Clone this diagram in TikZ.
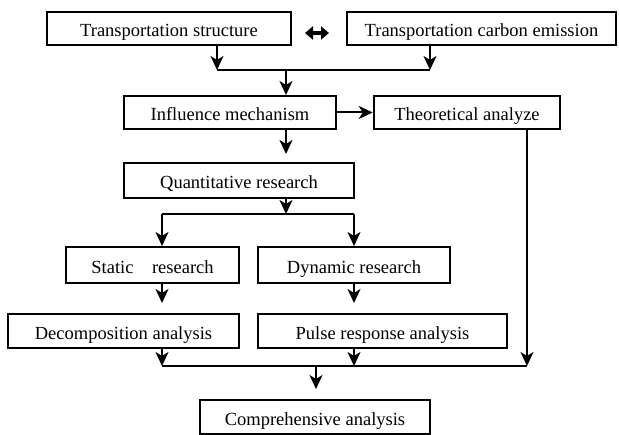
\documentclass[tikz,border=0pt]{standalone}
\usepackage{fontspec}
\setmainfont{Liberation Serif}
\usepackage{tikz}
\usetikzlibrary{arrows.meta}

\begin{document}
\begin{tikzpicture}[x=1pt, y=-1pt]

\tikzstyle{process} = [rectangle, minimum height=34pt, inner sep=0pt, text height=17pt, text depth=0pt, text centered, draw=black, line width=2pt, font=\fontsize{18.5}{22}\selectfont]
\tikzstyle{arrow} = [line width=2pt, -{Stealth[length=14pt, width=13pt, inset=4pt]}]
\tikzstyle{line} = [line width=2pt]
\tikzstyle{biarrow} = [line width=4pt, {Triangle[length=8pt, width=13pt]}-{Triangle[length=8pt, width=13pt]}]

\useasboundingbox (0,0) rectangle (619,435);

\node (struct) [process, minimum width=244.5pt, minimum height=33pt] at (169,28.5) {Transportation structure};
\node (carbon) [process, minimum width=269pt, minimum height=33pt] at (481.5,28.5) {Transportation carbon emission};
\node (influence) [process, minimum width=211.5pt, minimum height=33pt] at (230,112.5) {Influence mechanism};
\node (theory) [process, minimum width=186.5pt, minimum height=33pt] at (467,112.5) {Theoretical analyze};
\node (quant) [process, minimum width=229.5pt, minimum height=35pt] at (239,180.5) {Quantitative research};
\node (static) [process, minimum width=173pt, minimum height=36pt] at (152.5,265) {Static\quad research};
\node (dynamic) [process, minimum width=192pt, minimum height=36pt] at (354,265) {Dynamic research};
\node (decomp) [process, minimum width=231pt] at (123.5,331) {Decomposition analysis};
\node (pulse) [process, minimum width=249pt] at (382.5,331) {Pulse response analysis};
\node (compr) [process, minimum width=229.5pt] at (315,417) {Comprehensive analysis};

% junction points
\coordinate (top) at (286,70);
\coordinate (split) at (286,214);
\coordinate (sa) at (162,214);
\coordinate (sb) at (354,214);
\coordinate (ba) at (162,366);
\coordinate (bc) at (354,366);
\coordinate (bb) at (527,366);
\coordinate (bot) at (316,366);

\draw [biarrow, shorten <=12.75pt, shorten >=17pt] ([yshift=-4.5pt]struct.east) -- ([yshift=-4.5pt]carbon.west);

\draw [arrow] ([xshift=48pt]struct.south) -- ([xshift=48pt]struct.south |- top);
\draw [arrow] ([xshift=-51.5pt]carbon.south) -- ([xshift=-51.5pt]carbon.south |- top);
\draw [line] ([xshift=48pt]struct.south |- top) -- ([xshift=-51.5pt]carbon.south |- top);
\draw [arrow] (top) -- (influence.north -| top);

\draw [arrow] (influence) -- (theory);
\draw [arrow, shorten >=8pt] (influence.south -| top) -- (quant.north -| top);

\draw [arrow] (quant.south -| split) -- (split);
\draw [line] (sa) -- (sb);
\draw [arrow] (sa) -- (static.north -| sa);
\draw [arrow] (sb) -- (dynamic.north);

\draw [arrow, shorten >=10pt] (static.south -| sa) -- (decomp.north -| sa);
\draw [arrow, shorten >=10pt] (dynamic.south) -- (pulse.north -| sb);

\draw [arrow] (decomp.south -| ba) -- (ba);
\draw [arrow] (pulse.south -| bc) -- (bc);
\draw [arrow] (theory.south -| bb) -- (bb);
\draw [line] (ba) -- (bb);
\draw [arrow, shorten >=10pt] (bot) -- (compr.north -| bot);

\end{tikzpicture}
\end{document}
